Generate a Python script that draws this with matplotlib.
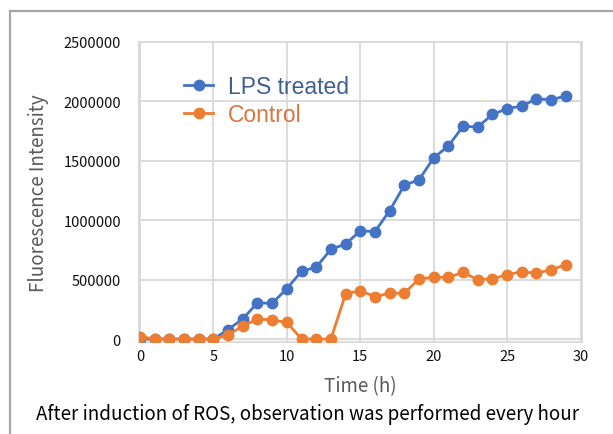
import matplotlib
matplotlib.use("Agg")
import matplotlib.pyplot as plt
from matplotlib.lines import Line2D

hours = list(range(30))
lps_treated = [0, 0, 0, 0, 0, 0, 80000, 170000, 305000, 300000,
               425000, 570000, 605000, 755000, 800000, 910000, 905000, 1080000, 1295000, 1340000,
               1525000, 1625000, 1790000, 1785000, 1890000, 1940000, 1960000, 2022000, 2015000, 2045000]
control = [20000, 0, 0, 0, 0, 0, 35000, 110000, 168000, 160000,
           140000, 0, 0, 0, 380000, 407000, 357000, 385000, 385000, 506000,
           520000, 520000, 560000, 500000, 506000, 542000, 567000, 553000, 584000, 626000]
series_names = ["LPS treated", "Control"]
x_ticks = [0, 5, 10, 15, 20, 25, 30]
y_ticks = [0, 500000, 1000000, 1500000, 2000000, 2500000]

BLUE = "#4472C4"
ORANGE = "#ED7D31"
GRID = "#d9d9d9"
CJK = ["Noto Sans CJK SC", "DejaVu Sans"]

W, H = 613, 435
fig = plt.figure(figsize=(W / 100, H / 100), dpi=100)
fig.patch.set_facecolor("white")

left, right, top, bottom = 139, 582, 43, 343
ax = fig.add_axes([left / W, 1 - bottom / H, (right - left) / W, (bottom - top) / H])

ax.plot(hours, lps_treated, color=BLUE, lw=2.0, marker="o", ms=7.5, label=series_names[0], zorder=3)
ax.plot(hours, control, color=ORANGE, lw=2.0, marker="o", ms=7.5, label=series_names[1], zorder=3)

ax.set_xlim(-0.07, 30.1)
ax.set_ylim(-25000, 2500000)
ax.set_xticks(x_ticks)
ax.set_yticks(y_ticks)
ax.set_xticklabels([str(v) for v in x_ticks], family=CJK, fontsize=10.5)
ax.set_yticklabels([str(v) for v in y_ticks], family=CJK, fontsize=10.5)
ax.tick_params(axis="both", length=0, colors="#111111")
ax.tick_params(axis="y", pad=13)
ax.tick_params(axis="x", pad=5)
ax.grid(True, color=GRID, lw=1.3)
ax.set_axisbelow(True)
for s in ax.spines.values():
    s.set_color(GRID)
    s.set_linewidth(1.3)

ax.set_ylabel("Fluorescence Intensity", family=CJK, fontsize=13.5, color="#595959", labelpad=10)
ax.set_xlabel("Time (h)", family=CJK, fontsize=13.5, color="#595959", labelpad=9)

leg = ax.legend(loc="upper left", bbox_to_anchor=(0.08, 0.92), frameon=False,
                prop={"family": "Liberation Sans", "size": 16.5}, handlelength=1.3,
                handletextpad=0.65, labelspacing=0.22, borderaxespad=0,
                labelcolor=["#3f5f92", "#d8763f"])

fig.text(308 / W, 1 - 415 / H, "After induction of ROS, observation was performed every hour",
         family=CJK, fontsize=13.5, color="black", ha="center", va="center")

# outer frame (top and left edges)
fig.add_artist(Line2D([9.5 / W, 1.0], [1 - 12 / H, 1 - 12 / H], color="#a6a6a6", lw=1.6,
                      transform=fig.transFigure))
fig.add_artist(Line2D([9.5 / W, 9.5 / W], [1 - 12 / H, 0], color="#a6a6a6", lw=1.6,
                      transform=fig.transFigure))

fig.savefig("out.png", dpi=100)
